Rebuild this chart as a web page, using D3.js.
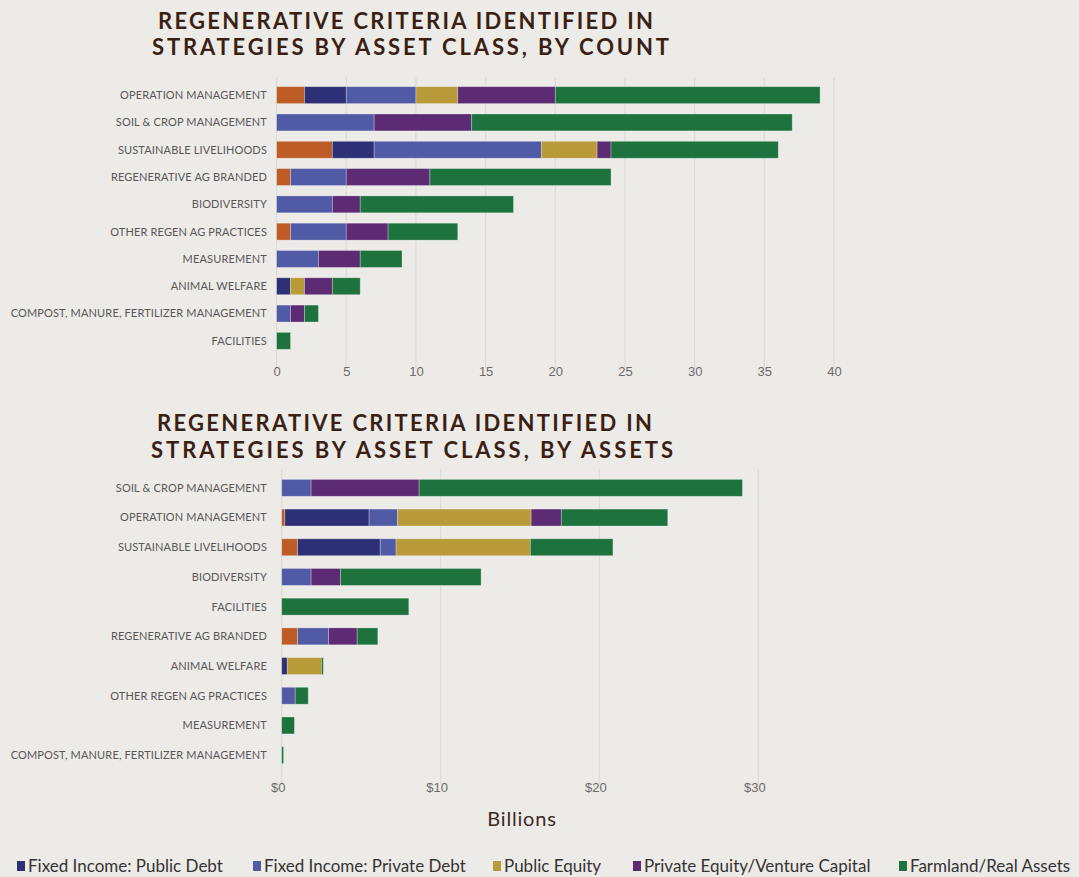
<!DOCTYPE html>
<html>
<head>
<meta charset="utf-8">
<script src="https://cdn.jsdelivr.net/npm/d3@7"></script>
<style>
  body { margin: 0; background: #edebe7; }
  svg { display: block; font-family: Lato, "Open Sans", sans-serif; }
  .grid line { stroke: #dddbd6; stroke-width: 1.2; }
  .cat-label { font-size: 11px; fill: #575757; letter-spacing: 0.15px; }
  .tick-label { font-size: 13px; fill: #6a6a6a; }
  .title { font-size: 22px; font-weight: 700; fill: #3b1f14; }
  .legend-text { font-size: 17px; fill: #333; }
</style>
</head>
<body>
<div class="chart"></div>
<script>
// series (order of stacking, left to right)
var seriesKeys = ["Other", "Fixed Income: Public Debt", "Fixed Income: Private Debt",
                  "Public Equity", "Private Equity/Venture Capital", "Farmland/Real Assets"];
var legendKeys = ["Fixed Income: Public Debt", "Fixed Income: Private Debt", "Public Equity",
                  "Private Equity/Venture Capital", "Farmland/Real Assets"];
var seriesColors = ["#bd5c27", "#2d3076", "#515aa5", "#b99a38", "#5d2a74", "#1e723e"];

// chart 1 : by count
var countCategories = ["OPERATION MANAGEMENT", "SOIL & CROP MANAGEMENT", "SUSTAINABLE LIVELIHOODS",
  "REGENERATIVE AG BRANDED", "BIODIVERSITY", "OTHER REGEN AG PRACTICES", "MEASUREMENT",
  "ANIMAL WELFARE", "COMPOST, MANURE, FERTILIZER MANAGEMENT", "FACILITIES"];
var countOther         = [2, 0, 4, 1, 0, 1, 0, 0, 0, 0];
var countPublicDebt    = [3, 0, 3, 0, 0, 0, 0, 1, 0, 0];
var countPrivateDebt   = [5, 7, 12, 4, 4, 4, 3, 0, 1, 0];
var countPublicEquity  = [3, 0, 4, 0, 0, 0, 0, 1, 0, 0];
var countPrivateEquity = [7, 7, 1, 6, 2, 3, 3, 2, 1, 0];
var countFarmland      = [19, 23, 12, 13, 11, 5, 3, 2, 1, 1];
var countTicks = [0, 5, 10, 15, 20, 25, 30, 35, 40];

// chart 2 : by assets (billions)
var assetCategories = ["SOIL & CROP MANAGEMENT", "OPERATION MANAGEMENT", "SUSTAINABLE LIVELIHOODS",
  "BIODIVERSITY", "FACILITIES", "REGENERATIVE AG BRANDED", "ANIMAL WELFARE",
  "OTHER REGEN AG PRACTICES", "MEASUREMENT", "COMPOST, MANURE, FERTILIZER MANAGEMENT"];
var assetOther         = [0, 0.2, 1.0, 0, 0, 1.0, 0, 0, 0, 0];
var assetPublicDebt    = [0, 5.3, 5.2, 0, 0, 0, 0.35, 0, 0, 0];
var assetPrivateDebt   = [1.85, 1.8, 1.0, 1.85, 0, 1.95, 0, 0.85, 0, 0];
var assetPublicEquity  = [0, 8.4, 8.45, 0, 0, 0, 2.15, 0, 0, 0];
var assetPrivateEquity = [6.8, 1.9, 0, 1.85, 0, 1.8, 0, 0, 0, 0];
var assetFarmland      = [20.35, 6.7, 5.2, 8.85, 8.0, 1.3, 0.12, 0.82, 0.8, 0.12];
var assetTicks = [0, 10, 20, 30];

function toRows(cats, cols) {
  return cats.map(function(c, i) {
    var row = { category: c };
    seriesKeys.forEach(function(k, j) { row[k] = cols[j][i]; });
    return row;
  });
}

var svg = d3.select(".chart").append("svg")
    .attr("width", 1079)
    .attr("height", 877);

var color = d3.scaleOrdinal().domain(seriesKeys).range(seriesColors);

function drawChart(opts) {
  var rows = toRows(opts.categories, opts.columns);
  var stack = d3.stack().keys(seriesKeys)(rows);

  var x = d3.scaleLinear().domain(opts.domain).range([opts.left, opts.right]);
  var y = d3.scaleBand().domain(opts.categories)
      .range([opts.top, opts.bottom]).paddingInner(opts.padding).paddingOuter(opts.padding / 2);

  var g = svg.append("g");

  // Title (two lines)
  opts.title.forEach(function(t) {
    g.append("text")
      .attr("class", "title")
      .attr("x", t.x)
      .attr("y", t.y)
      .attr("text-anchor", "middle")
      .attr("textLength", t.w)
      .attr("lengthAdjust", "spacing")
      .text(t.text);
  });

  // gridlines
  g.append("g").attr("class", "grid")
    .selectAll("line").data(opts.ticks).enter().append("line")
      .attr("x1", function(d) { return x(d); })
      .attr("x2", function(d) { return x(d); })
      .attr("y1", opts.top - 4)
      .attr("y2", opts.bottom + 14);

  // bars
  g.append("g").selectAll("g").data(stack).enter().append("g")
      .attr("fill", function(d) { return color(d.key); })
    .selectAll("rect").data(function(d) { return d; }).enter()
    .filter(function(d) { return d[1] - d[0] > 0; })
    .append("rect")
      .attr("x", function(d) { return x(d[0]); })
      .attr("width", function(d) { return x(d[1]) - x(d[0]); })
      .attr("y", function(d) { return y(d.data.category); })
      .attr("height", y.bandwidth())
      .attr("stroke", "rgba(255,255,255,0.35)")
      .attr("stroke-width", 0.8);

  // category labels
  g.append("g").selectAll("text").data(opts.categories).enter().append("text")
      .attr("class", "cat-label")
      .attr("x", 267)
      .attr("y", function(d) { return y(d) + y.bandwidth() / 2; })
      .attr("dy", "0.35em")
      .attr("text-anchor", "end")
      .text(function(d) { return d; });

  // x axis
  var axis = d3.axisBottom(x).tickValues(opts.ticks).tickSize(0).tickFormat(opts.format);
  var ax = g.append("g")
      .attr("transform", "translate(" + opts.labelShift + "," + opts.axisY + ")")
      .call(axis);
  ax.select(".domain").remove();
  ax.selectAll("text").attr("class", "tick-label").attr("font-family", null).attr("font-size", null).attr("fill", null);
}

drawChart({
  categories: countCategories,
  columns: [countOther, countPublicDebt, countPrivateDebt, countPublicEquity, countPrivateEquity, countFarmland],
  domain: [0, 40], left: 276.6, right: 834,
  top: 81.5, bottom: 354.5, padding: 0.38,
  ticks: countTicks, format: d3.format("d"), axisY: 364, labelShift: 0,
  title: [
    { text: "REGENERATIVE CRITERIA IDENTIFIED IN", x: 405.5, y: 28.5, w: 495 },
    { text: "STRATEGIES BY ASSET CLASS, BY COUNT", x: 410.5, y: 55, w: 517 }
  ]
});

drawChart({
  categories: assetCategories,
  columns: [assetOther, assetPublicDebt, assetPrivateDebt, assetPublicEquity, assetPrivateEquity, assetFarmland],
  domain: [0, 30], left: 281.7, right: 758.3,
  top: 473, bottom: 770, padding: 0.43,
  ticks: assetTicks, format: function(d) { return "$" + d; }, axisY: 780, labelShift: -4,
  title: [
    { text: "REGENERATIVE CRITERIA IDENTIFIED IN", x: 404.5, y: 431, w: 495 },
    { text: "STRATEGIES BY ASSET CLASS, BY ASSETS", x: 412, y: 458, w: 522 }
  ]
});

// axis title
svg.append("text")
  .attr("x", 522)
  .attr("y", 826)
  .attr("text-anchor", "middle")
  .attr("font-size", 20)
  .attr("fill", "#3a2a24")
  .attr("letter-spacing", 0.8)
  .text("Billions");

// legend
var legendX = [17, 253, 493, 633, 899];
var legend = svg.append("g").selectAll("g").data(legendKeys).enter().append("g")
    .attr("transform", function(d, i) { return "translate(" + legendX[i] + ",861)"; });
legend.append("rect")
  .attr("width", 8).attr("height", 10)
  .attr("y", 0)
  .attr("fill", function(d) { return color(d); });
legend.append("text")
  .attr("class", "legend-text")
  .attr("x", 11)
  .attr("y", 10.5)
  .text(function(d) { return d; });
</script>
</body>
</html>
